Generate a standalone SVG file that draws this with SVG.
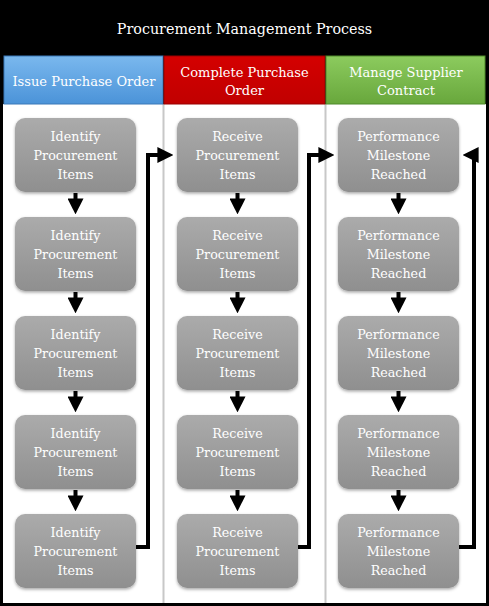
<svg xmlns="http://www.w3.org/2000/svg" width="489" height="606" viewBox="0 0 489 606">
<defs>
<linearGradient id="gNode" x1="0" y1="0" x2="0" y2="1"><stop offset="0" stop-color="#ababab"/><stop offset="1" stop-color="#8f8f8f"/></linearGradient>
<linearGradient id="gBlue" x1="0" y1="0" x2="0" y2="1"><stop offset="0" stop-color="#7ab8ee"/><stop offset="1" stop-color="#4b93d8"/></linearGradient>
<linearGradient id="gRed" x1="0" y1="0" x2="0" y2="1"><stop offset="0" stop-color="#d40000"/><stop offset="1" stop-color="#c00000"/></linearGradient>
<linearGradient id="gGreen" x1="0" y1="0" x2="0" y2="1"><stop offset="0" stop-color="#8ccb5e"/><stop offset="1" stop-color="#68a73c"/></linearGradient>
<filter id="sh" x="-10%" y="-10%" width="120%" height="125%"><feDropShadow dx="0" dy="1.5" stdDeviation="1.5" flood-color="#000" flood-opacity="0.35"/></filter>
<marker id="ah" markerWidth="4" markerHeight="4" refX="2.4" refY="2" orient="auto" markerUnits="strokeWidth"><path d="M0,0 L4,2 L0,4 Z" fill="#000"/></marker>
</defs>
<style>
.t{font-family:"DejaVu Serif","Liberation Serif",serif;fill:#fff;text-anchor:middle}
.nt{font-size:12.7px}
.ht{font-size:13px}
.node rect{fill:url(#gNode);filter:url(#sh)}
.con path{fill:none;stroke:#000;stroke-width:4;marker-end:url(#ah)}
</style>
<rect x="0" y="0" width="489" height="606" fill="#000"/>
<rect x="3" y="104" width="483" height="499" fill="#fff"/>
<line x1="163.5" y1="104" x2="163.5" y2="603" stroke="#c8c8c8" stroke-width="2"/>
<line x1="325.5" y1="104" x2="325.5" y2="603" stroke="#c8c8c8" stroke-width="2"/>
<g id="title"><text class="t" x="244.5" y="34" font-size="14.3">Procurement Management Process</text></g>
<g id="h1"><rect x="4" y="56" width="159" height="48" fill="url(#gBlue)" stroke="#3a78b8" stroke-width="1"/><text class="t ht" x="84" y="86">Issue Purchase Order</text></g>
<g id="h2"><rect x="164" y="56" width="161" height="48" fill="url(#gRed)" stroke="#900" stroke-width="1"/><text class="t ht" x="244.5" y="77">Complete Purchase</text><text class="t ht" x="244.5" y="95">Order</text></g>
<g id="h3"><rect x="326" y="56" width="159" height="48" fill="url(#gGreen)" stroke="#4f8a2a" stroke-width="1"/><text class="t ht" x="406" y="77">Manage Supplier</text><text class="t ht" x="406" y="95">Contract</text></g>
<g id="c1n1" class="node"><rect x="15" y="118" width="121" height="74" rx="10"/><text class="t nt" x="75.5" y="141">Identify</text><text class="t nt" x="75.5" y="160">Procurement</text><text class="t nt" x="75.5" y="179">Items</text></g>
<g id="c1n2" class="node"><rect x="15" y="217" width="121" height="74" rx="10"/><text class="t nt" x="75.5" y="240">Identify</text><text class="t nt" x="75.5" y="259">Procurement</text><text class="t nt" x="75.5" y="278">Items</text></g>
<g id="c1n3" class="node"><rect x="15" y="316" width="121" height="74" rx="10"/><text class="t nt" x="75.5" y="339">Identify</text><text class="t nt" x="75.5" y="358">Procurement</text><text class="t nt" x="75.5" y="377">Items</text></g>
<g id="c1n4" class="node"><rect x="15" y="415" width="121" height="74" rx="10"/><text class="t nt" x="75.5" y="438">Identify</text><text class="t nt" x="75.5" y="457">Procurement</text><text class="t nt" x="75.5" y="476">Items</text></g>
<g id="c1n5" class="node"><rect x="15" y="514" width="121" height="74" rx="10"/><text class="t nt" x="75.5" y="537">Identify</text><text class="t nt" x="75.5" y="556">Procurement</text><text class="t nt" x="75.5" y="575">Items</text></g>
<g id="c2n1" class="node"><rect x="177" y="118" width="121" height="74" rx="10"/><text class="t nt" x="237.5" y="141">Receive</text><text class="t nt" x="237.5" y="160">Procurement</text><text class="t nt" x="237.5" y="179">Items</text></g>
<g id="c2n2" class="node"><rect x="177" y="217" width="121" height="74" rx="10"/><text class="t nt" x="237.5" y="240">Receive</text><text class="t nt" x="237.5" y="259">Procurement</text><text class="t nt" x="237.5" y="278">Items</text></g>
<g id="c2n3" class="node"><rect x="177" y="316" width="121" height="74" rx="10"/><text class="t nt" x="237.5" y="339">Receive</text><text class="t nt" x="237.5" y="358">Procurement</text><text class="t nt" x="237.5" y="377">Items</text></g>
<g id="c2n4" class="node"><rect x="177" y="415" width="121" height="74" rx="10"/><text class="t nt" x="237.5" y="438">Receive</text><text class="t nt" x="237.5" y="457">Procurement</text><text class="t nt" x="237.5" y="476">Items</text></g>
<g id="c2n5" class="node"><rect x="177" y="514" width="121" height="74" rx="10"/><text class="t nt" x="237.5" y="537">Receive</text><text class="t nt" x="237.5" y="556">Procurement</text><text class="t nt" x="237.5" y="575">Items</text></g>
<g id="c3n1" class="node"><rect x="338" y="118" width="121" height="74" rx="10"/><text class="t nt" x="398.5" y="141">Performance</text><text class="t nt" x="398.5" y="160">Milestone</text><text class="t nt" x="398.5" y="179">Reached</text></g>
<g id="c3n2" class="node"><rect x="338" y="217" width="121" height="74" rx="10"/><text class="t nt" x="398.5" y="240">Performance</text><text class="t nt" x="398.5" y="259">Milestone</text><text class="t nt" x="398.5" y="278">Reached</text></g>
<g id="c3n3" class="node"><rect x="338" y="316" width="121" height="74" rx="10"/><text class="t nt" x="398.5" y="339">Performance</text><text class="t nt" x="398.5" y="358">Milestone</text><text class="t nt" x="398.5" y="377">Reached</text></g>
<g id="c3n4" class="node"><rect x="338" y="415" width="121" height="74" rx="10"/><text class="t nt" x="398.5" y="438">Performance</text><text class="t nt" x="398.5" y="457">Milestone</text><text class="t nt" x="398.5" y="476">Reached</text></g>
<g id="c3n5" class="node"><rect x="338" y="514" width="121" height="74" rx="10"/><text class="t nt" x="398.5" y="537">Performance</text><text class="t nt" x="398.5" y="556">Milestone</text><text class="t nt" x="398.5" y="575">Reached</text></g>
<g id="connectors" class="con">
<path d="M75.5,193 V208"/><path d="M75.5,292 V307"/><path d="M75.5,391 V406"/><path d="M75.5,490 V505"/>
<path d="M237.5,193 V208"/><path d="M237.5,292 V307"/><path d="M237.5,391 V406"/><path d="M237.5,490 V505"/>
<path d="M398.5,193 V208"/><path d="M398.5,292 V307"/><path d="M398.5,391 V406"/><path d="M398.5,490 V505"/>
<path d="M136,547 H148 V155 H167"/>
<path d="M298,547 H309 V155 H328"/>
<path d="M459,547 H474 V155 H469"/>
</g>
</svg>
